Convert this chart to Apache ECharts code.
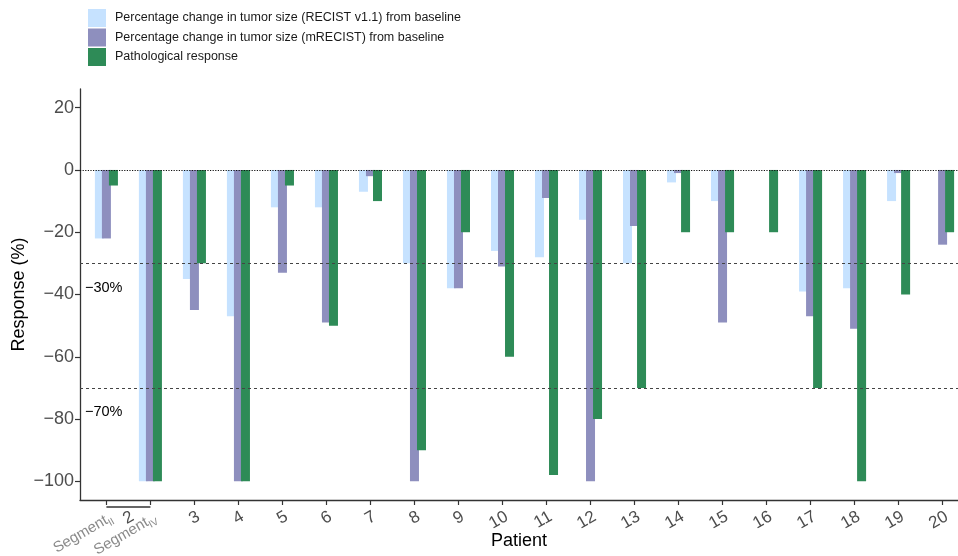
<!DOCTYPE html>
<html>
<head>
<meta charset="utf-8">
<script src="https://cdn.jsdelivr.net/npm/echarts@6/dist/echarts.min.js"></script>
<style>
html,body{margin:0;padding:0;background:#fff;}
#chart{width:958px;height:556px;}
</style>
</head>
<body>
<div id="chart"></div>
<script>
// ---- data ----
const categories = ['Segment_II','Segment_IV','3','4','5','6','7','8','9','10','11','12','13','14','15','16','17','18','19','20'];
const groupLabel = '2'; // patient 2 spans the two segment bars
const seriesNames = [
  'Percentage change in tumor size (RECIST v1.1) from baseline',
  'Percentage change in tumor size (mRECIST) from baseline',
  'Pathological response'
];
const recist   = [-22,-100,-35,-47,-12,-12,-7,-30,-38,-26,-28,-16,-30,-4,-10,null,-39,-38,-10,null];
const mrecist  = [-22,-100,-45,-100,-33,-49,-2,-100,-38,-31,-9,-100,-18,-1,-49,null,-47,-51,-1,-24];
const patho    = [-5,-100,-30,-100,-5,-50,-10,-90,-20,-60,-98,-80,-70,-20,-20,-20,-70,-100,-40,-20];
const yTicks = [-100,-80,-60,-40,-20,0,20];
const refLines = [0,-30,-70];
const refLabels = ['', '\u221230%', '\u221270%'];
const yMin = -106, yMax = 26;
const xMin = 0.4, xMax = 20.35;

const colors = ['#C6E2FF','#8E8FBE','#2E8B57'];

// positions of categories on the axis: 1..N
const xPos = categories.map((c,i)=>i+1);
const labelPos = [1, 1.5].concat(xPos.slice(1));
function xLabel(v){
  if (Math.abs(v-1.5) < 1e-6) return groupLabel;
  const i = Math.round(v)-1;
  const c = categories[i];
  if (c === undefined) return '';
  const m = c.match(/^(\w+?)_(\w+)$/);
  if (m) return '{seg|'+m[1]+'}{sub|'+m[2]+'}';
  return c;
}
const toPairs = arr => arr.map((v,i)=>[xPos[i], v]);

const chart = echarts.init(document.getElementById('chart'), null, {renderer:'canvas'});
const font = 'Liberation Sans, Arial, Helvetica, sans-serif';

const option = {
  animation:false,
  textStyle:{fontFamily:font},
  color: colors,
  legend:{
    orient:'vertical', left:88, top:9, padding:0,
    itemWidth:18, itemHeight:18, itemGap:1.5,
    icon:'rect',
    textStyle:{fontSize:12.5, color:'#1a1a1a', fontFamily:font, padding:[0,0,0,4]},
    data: seriesNames
  },
  grid:{left:80, right:0, top:89, bottom:56, containLabel:false, outerBoundsMode:'none'},
  xAxis:{
    type:'value', min:xMin, max:xMax,
    name:'Patient', nameLocation:'middle', nameGap:32, nameMoveOverlap:false,
    nameTextStyle:{fontSize:18, color:'#000', fontFamily:font, verticalAlign:'top'},
    splitLine:{show:false},
    axisLine:{show:true, onZero:false, lineStyle:{color:'#333', width:1.3}},
    axisTick:{show:true, length:5, customValues:xPos, lineStyle:{color:'#333', width:1.2}},
    axisLabel:{
      customValues:labelPos, rotate:30, align:'right', verticalAlign:'top', margin:8,
      hideOverlap:false,
      fontSize:17, color:'#4d4d4d', fontFamily:font,
      formatter:xLabel,
      rich:{
        seg:{fontSize:15, color:'#8a8a8a', fontFamily:font, verticalAlign:'middle', lineHeight:20},
        sub:{fontSize:10, color:'#8a8a8a', fontFamily:font, verticalAlign:'bottom', lineHeight:20}
      }
    }
  },
  yAxis:{
    type:'value', min:yMin, max:yMax,
    name:'Response (%)', nameLocation:'middle', nameGap:52, nameMoveOverlap:false,
    nameTextStyle:{fontSize:18, color:'#000', fontFamily:font},
    splitLine:{show:false},
    axisLine:{show:true, lineStyle:{color:'#333', width:1.3}},
    axisTick:{show:true, length:5, customValues:yTicks, lineStyle:{color:'#333', width:1.2}},
    axisLabel:{customValues:yTicks, fontSize:18, color:'#4d4d4d', margin:6, fontFamily:font,
      formatter:v=> (v<0 ? '\u2212'+Math.abs(v) : String(v))}
  },
  series:[
    {name:seriesNames[0], type:'bar', data:toPairs(recist), barWidth:9, barGap:'-22%', itemStyle:{color:colors[0]}},
    {name:seriesNames[1], type:'bar', data:toPairs(mrecist), barWidth:9, barGap:'-22%', itemStyle:{color:colors[1]}},
    {name:seriesNames[2], type:'bar', data:toPairs(patho), barWidth:9, barGap:'-22%', itemStyle:{color:colors[2]},
      markLine:{
        silent:true, symbol:['none','none'], animation:false,
        data: refLines.map((v,i)=>({
          yAxis:v,
          lineStyle:{color: i===0 ? '#111' : '#444', width:1, type: i===0 ? [1.2,1.4] : [3,3]},
          label:{show: refLabels[i] !== '', formatter: refLabels[i], position:'insideStartBottom',
                 distance:[5,17], fontSize:14.5, color:'#000', fontFamily:font}
        }))
      }
    }
  ]
};
chart.setOption(option);

// bracket under patient 2 segments, computed from the axis scale
const p1 = chart.convertToPixel({xAxisIndex:0, yAxisIndex:0}, [xPos[0], yMin]);
const p2 = chart.convertToPixel({xAxisIndex:0, yAxisIndex:0}, [xPos[1], yMin]);
chart.setOption({graphic:[{
  type:'line', silent:true,
  shape:{x1:p1[0], y1:p1[1]+7, x2:p2[0], y2:p2[1]+7},
  style:{stroke:'#333', lineWidth:1.5}
}]});
</script>
</body>
</html>
